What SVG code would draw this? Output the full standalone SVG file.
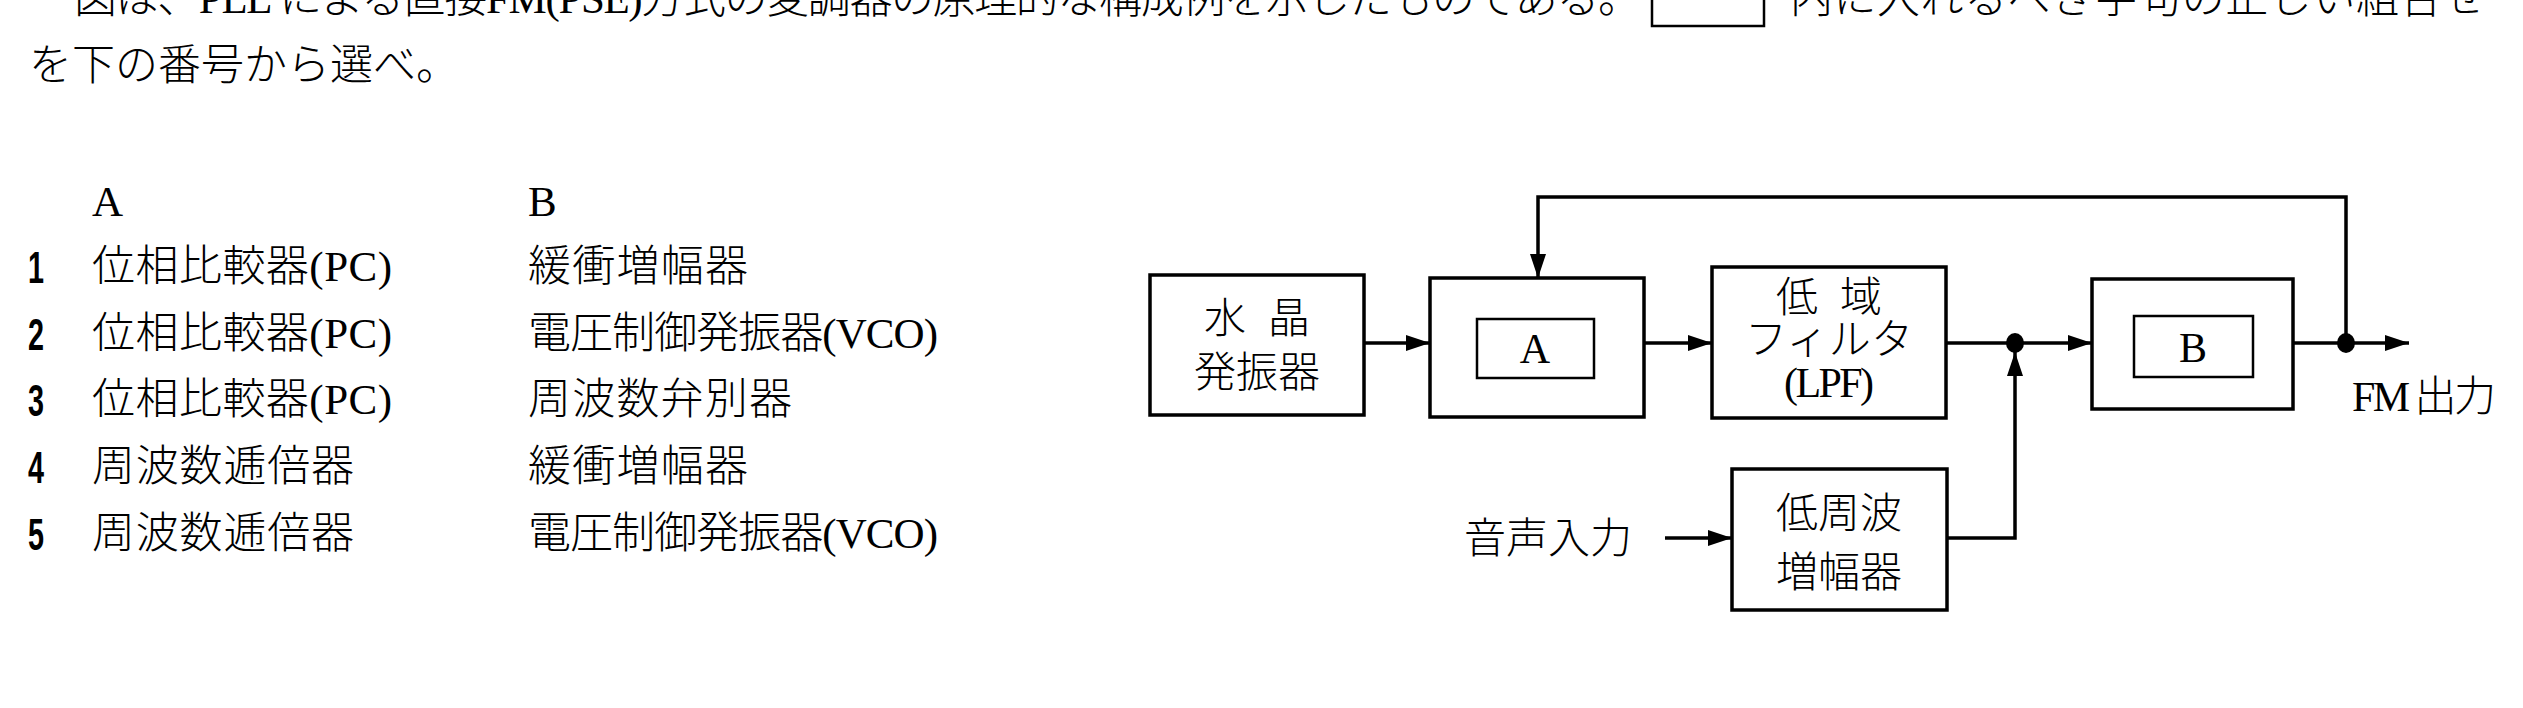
<svg xmlns="http://www.w3.org/2000/svg" width="2523" height="708" viewBox="0 0 2523 708">
<style>
.jp{font-family:"Noto Sans CJK JP","Noto Sans CJK SC",sans-serif;font-weight:300;fill:#000}
.lat{font-family:"Liberation Serif","DejaVu Serif",serif;font-weight:400}
.num{font-family:"Liberation Sans",Arial,sans-serif;font-weight:700;fill:#000}
.box{fill:#fff;stroke:#000;stroke-width:3.5}
.inner{fill:#fff;stroke:#000;stroke-width:2.5}
.wire{fill:none;stroke:#000;stroke-width:3.5}
</style>
<defs>
<marker id="arr" viewBox="0 0 24 16" refX="24" refY="8" markerWidth="24" markerHeight="16" markerUnits="userSpaceOnUse" orient="auto">
<path d="M0,0 L24,8 L0,16 Z" fill="#000"/>
</marker>
</defs>
<rect width="2523" height="708" fill="#fff"/>

<g id="question">
<text class="jp" x="74" y="13" font-size="43" textLength="1567">図は、<tspan class="lat">PLL</tspan> による直接<tspan class="lat">FM(PSE)</tspan>方式の変調器の原理的な構成例を示したものである。</text>
<rect x="1652" y="-30" width="112" height="56" fill="none" stroke="#000" stroke-width="2.5"/>
<text class="jp" x="1790" y="13" font-size="43" textLength="696">内に入れるべき字句の正しい組合せ</text>
<text class="jp" x="29" y="80" font-size="43" textLength="430">を下の番号から選べ。</text>
</g>

<g id="choices">
<text class="lat" x="92" y="216" font-size="43">A</text>
<text class="lat" x="528" y="216" font-size="43">B</text>
<text class="num" x="28" y="283" font-size="44" textLength="16" lengthAdjust="spacingAndGlyphs">1</text>
<text class="num" x="28" y="350" font-size="44" textLength="16" lengthAdjust="spacingAndGlyphs">2</text>
<text class="num" x="28" y="416" font-size="44" textLength="16" lengthAdjust="spacingAndGlyphs">3</text>
<text class="num" x="28" y="483" font-size="44" textLength="16" lengthAdjust="spacingAndGlyphs">4</text>
<text class="num" x="28" y="550" font-size="44" textLength="16" lengthAdjust="spacingAndGlyphs">5</text>
<text class="jp" x="92" y="281" font-size="43" textLength="300">位相比較器<tspan class="lat">(PC)</tspan></text>
<text class="jp" x="92" y="348" font-size="43" textLength="300">位相比較器<tspan class="lat">(PC)</tspan></text>
<text class="jp" x="92" y="414" font-size="43" textLength="300">位相比較器<tspan class="lat">(PC)</tspan></text>
<text class="jp" x="92" y="481" font-size="43" textLength="262">周波数逓倍器</text>
<text class="jp" x="92" y="548" font-size="43" textLength="262">周波数逓倍器</text>
<text class="jp" x="528" y="281" font-size="43" textLength="220">緩衝増幅器</text>
<text class="jp" x="528" y="348" font-size="43" textLength="410">電圧制御発振器<tspan class="lat">(VCO)</tspan></text>
<text class="jp" x="528" y="414" font-size="43" textLength="264">周波数弁別器</text>
<text class="jp" x="528" y="481" font-size="43" textLength="220">緩衝増幅器</text>
<text class="jp" x="528" y="548" font-size="43" textLength="410">電圧制御発振器<tspan class="lat">(VCO)</tspan></text>
</g>

<g id="connectors">
<line class="wire" x1="1364" y1="343" x2="1430" y2="343" marker-end="url(#arr)"/>
<line class="wire" x1="1644" y1="343" x2="1712" y2="343" marker-end="url(#arr)"/>
<line class="wire" x1="1945" y1="343" x2="2092" y2="343" marker-end="url(#arr)"/>
<line class="wire" x1="2293" y1="343" x2="2409" y2="343" marker-end="url(#arr)"/>
<polyline class="wire" points="2346,343 2346,197 1538,197 1538,278" marker-end="url(#arr)"/>
<line class="wire" x1="1665" y1="538" x2="1732" y2="538" marker-end="url(#arr)"/>
<polyline class="wire" points="1947,538 2015,538 2015,352" marker-end="url(#arr)"/>
<ellipse cx="2015" cy="343" rx="9" ry="10" fill="#000"/>
<ellipse cx="2346" cy="343" rx="9" ry="10" fill="#000"/>
</g>

<g id="crystal">
<rect class="box" x="1150" y="275" width="214" height="140"/>
<text class="jp" x="1257" y="333" font-size="42" text-anchor="middle" textLength="106">水 晶</text>
<text class="jp" x="1257" y="387" font-size="42" text-anchor="middle">発振器</text>
</g>

<g id="blockA">
<rect class="box" x="1430" y="278" width="214" height="139"/>
<rect class="inner" x="1477" y="319" width="117" height="59"/>
<text class="lat" x="1535" y="363" font-size="42" text-anchor="middle">A</text>
</g>

<g id="lpf">
<rect class="box" x="1712" y="267" width="234" height="151"/>
<text class="jp" x="1829" y="312" font-size="42" text-anchor="middle" textLength="106">低 域</text>
<text class="jp" x="1829" y="354" font-size="42" text-anchor="middle" textLength="168">フィルタ</text>
<text class="lat" x="1829" y="397" font-size="42" text-anchor="middle" textLength="90">(LPF)</text>
</g>

<g id="blockB">
<rect class="box" x="2092" y="279" width="201" height="130"/>
<rect class="inner" x="2134" y="316" width="119" height="61"/>
<text class="lat" x="2193" y="362" font-size="42" text-anchor="middle">B</text>
</g>

<g id="lfamp">
<rect class="box" x="1732" y="469" width="215" height="141"/>
<text class="jp" x="1839" y="528" font-size="42" text-anchor="middle">低周波</text>
<text class="jp" x="1839" y="587" font-size="42" text-anchor="middle">増幅器</text>
</g>

<g id="labels">
<text class="jp" x="1464" y="553" font-size="42" textLength="168">音声入力</text>
<text class="jp" x="2352" y="411" font-size="42" textLength="144"><tspan class="lat">FM</tspan> 出力</text>
</g>
</svg>
